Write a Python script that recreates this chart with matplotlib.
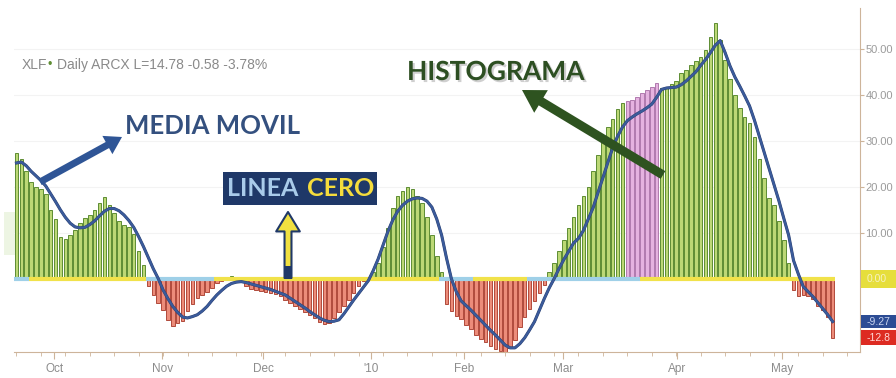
import numpy as np
import matplotlib
matplotlib.use('Agg')
import matplotlib.pyplot as plt
from matplotlib.patches import Rectangle
import matplotlib.patheffects as pe

plt.rcParams['font.family'] = ['Liberation Sans Narrow', 'Liberation Sans', 'DejaVu Sans']

# histogram, one value per trading day (Sep 2009 - May 2010)
hist = [27.4, 26, 23.5, 21, 20, 19.5, 18.5, 15, 13, 9,
        8.7, 9.5, 10.7, 12.2, 13.3, 13.8, 15, 16.5, 17.8, 16,
        14.3, 12.5, 11.7, 11.2, 9.8, 6, 3,
        -1.5, -3.5, -5.2, -6.7, -8.9, -10.2, -9.6, -9.2, -7, -5.5, -4.2, -3.5, -2.8, -2,
        -1.0, -0.4, 0.3, 0.6, 0.4, -0.4,
        -1.5, -2.3, -2.5, -2.6, -2.8, -3.0, -3.3, -3.8, -4.5, -5.2,
        -5.8, -6.5, -7.2, -7.8, -8.6, -9.3, -9.8, -9.5, -8.5, -7.3,
        -6, -4.5, -3, -1.5, -0.5, 0.4, 1.5,
        3.5, 7, 11, 15.5, 18, 19, 20, 19.5, 18, 16.5, 13.5, 9.5, 5, 1.5,
        -5.5, -7, -8, -8.8, -10, -11, -12.3, -13, -13.7, -14.5,
        -15.2, -15.6, -15.8, -15, -13.3, -10.5, -8.3, -6.5, -4.8, -3, -1.3,
        1.5, 3.5, 6, 8.5, 11, 13.5, 16, 18, 20, 23.5, 27, 30.5, 33, 34.8, 37, 38.3,
        38.7, 39, 39.6, 40.4, 41, 41.7, 42.5,
        41.5, 41.8, 42.3, 43, 44.8, 45.5, 46.5, 47.3, 48.3, 49.8,
        52.6, 55.6, 52, 47.5, 43.5, 40, 37.2, 35.2, 33.8, 30.8,
        26, 22, 17.5, 16, 12.5, 8.5, 3.5,
        -2.5, -3.8, -3.5, -3.8, -4.3, -6, -6.8, -8.3, -12.8]

# moving average of the histogram
ma = [25.2, 25.4, 24.6, 23.4, 22.4, 21.4, 20.2, 18.5, 16.8, 15,
      13.4, 12.1, 11.3, 11.1, 11.2, 11.8, 12.6, 13.7, 14.7, 15.3,
      15.3, 14.8, 13.9, 12.7, 11.2, 9.2, 7, 4.6, 2.2, 0.1,
      -2.4, -4.3, -6, -7.3, -8.3, -8.5, -8.2, -7.8, -7, -6,
      -4.7, -3.5, -2.5, -1.6, -1, -0.7, -0.6, -0.8, -1.1, -1.4,
      -1.7, -2, -2.3, -2.7, -3.1, -3.5, -4.2, -4.9, -5.6, -6.3,
      -7.1, -7.8, -8.5, -9, -9.3, -9.2, -8.9, -7.6, -6.1, -4.6,
      -3.2, -1.8, -0.4, 1.8, 4.3, 7.3, 10.3, 12.8, 14.7, 16,
      16.9, 17.4, 17.6, 17.5, 16.9, 15.6, 13, 9.5, 4.5, 0,
      -2.8, -4.8, -5.8, -6.8, -7.9, -9, -10.1, -11.2, -12.2, -13.3,
      -14.4, -15, -15, -14.1, -12.8, -11.1, -9.3, -6.8, -4.3, -2,
      0, 2.2, 4.2, 6, 7.8, 8.8, 10.5, 13, 15.5, 18.8,
      22, 25.3, 28.5, 31, 33, 34.4, 35.2, 35.9, 36.5, 37.2,
      38, 39.5, 41.2, 41.5, 41.6, 41.7, 42.2, 43, 44, 45,
      46.4, 47.7, 49.2, 50.8, 51.8, 49.2, 46.3, 43.9, 41.9, 39.8,
      37.6, 34.5, 31, 27.5, 24, 20.5, 17, 13.2, 9.5, 4,
      1, -1.7, -2.8, -3.9, -5.2, -6.5, -7.8, -9.27]

# days flagged pink on the histogram
pink_days = [125, 126, 127, 128, 129, 130, 131]
# zero line state runs (b = light blue, y = yellow)
zero_runs = [(3, 'b'), (24, 'y'), (14, 'b'), (46, 'y'), (7, 'b'), (11, 'y'), (23, 'b'), (40, 'y')]

month_pos = [7.7, 29.8, 50.5, 72.55, 91.6, 111.8, 135.2, 156.6]
month_lbl = ['Oct', 'Nov', 'Dec', "'10", 'Feb', 'Mar', 'Apr', 'May']
y_ticks = [10, 20, 30, 40, 50]

W, H = 896, 378
fig = plt.figure(figsize=(W / 100, H / 100), dpi=100)
ax = fig.add_axes([14 / W, 26 / H, 846 / W, 344 / H])
ax.patch.set_alpha(0)


def fp(x, y):
    # pixel position (top-left origin) -> figure fraction
    return x / W, 1 - y / H


x = np.arange(len(hist))
face, edge = [], []
for i, v in enumerate(hist):
    if i in pink_days:
        face.append('#e5b2e0'); edge.append('#b07aae')
    elif v >= 0:
        face.append('#bcd876'); edge.append('#5e8d33')
    else:
        face.append('#ec8c7a'); edge.append('#b04a3c')
ax.bar(x, hist, width=0.72, color=face, edgecolor=edge, linewidth=0.7, zorder=2)

zc = []
for n, c in zero_runs:
    zc += ['#f1e24a' if c == 'y' else '#9fd0e8'] * n
ax.hlines(np.zeros(len(x)), x - 0.5, x + 0.5, colors=zc, lw=3, zorder=3)

ax.plot(x, ma, color='#3b5b9b', lw=1.6, zorder=4,
        path_effects=[pe.Stroke(linewidth=2.2, foreground='#2a3f70'), pe.Normal()])

ax.set_xlim(-0.5, 172.6)
ax.set_ylim(-15.9, 58.9)

# axes look
for s in ['top', 'left']:
    ax.spines[s].set_visible(False)
for s in ['right', 'bottom']:
    ax.spines[s].set_color('#cdb49a')
ax.yaxis.tick_right()
ax.set_yticks(y_ticks)
ax.set_yticklabels(['%.2f' % v for v in y_ticks])
ax.tick_params(axis='y', length=3, color='#cdb49a', labelcolor='#9b9b9b', labelsize=8, pad=1)
ax.yaxis.grid(True, color='#f3f3f3', lw=0.8)
ax.set_axisbelow(True)

ax.set_xticks(month_pos)
ax.set_xticklabels(month_lbl)
ax.set_xticks(np.arange(0, 173, 5), minor=True)
ax.tick_params(axis='x', which='major', length=5, color='#cdb49a', labelcolor='#8c8c8c', labelsize=8.5, pad=3)
ax.tick_params(axis='x', which='minor', length=3, color='#cdb49a')

# last value labels on the right axis
trans = ax.get_yaxis_transform()
for val, h, fc, tc in [(0.0, 3.9, '#e6de3c', '#f6f2c4'),
                       (ma[-1], 3.0, '#2c4c94', '#c8d4f0'),
                       (hist[-1], 3.3, '#dd2b22', '#ffd6d6')]:
    ax.add_patch(Rectangle((1.001, val - h / 2), 0.05, h, transform=trans,
                           fc=fc, ec='none', clip_on=False, zorder=5))
    ax.text(1.008, val, '%.2f' % val if abs(val) < 10 else '%.1f' % val, transform=trans,
            va='center', ha='left', fontsize=7.5, color=tc, zorder=6, clip_on=False)

# faint patch at the left edge
fig.add_artist(Rectangle(fp(4, 255), 11 / W, 43 / H, transform=fig.transFigure,
                         fc='#edf5e3', ec='none', zorder=0))

# title line
fig.text(*fp(22, 65), 'XLF', color='#8a8a8a', fontsize=10, va='center')
fig.text(*fp(47, 65), '•', color='#5e8d33', fontsize=9, va='center')
fig.text(*fp(57, 65), 'Daily ARCX L=14.78 -0.58 -3.78%', color='#8a8a8a', fontsize=10, va='center')

# annotations
fig.text(*fp(125, 126), 'MEDIA MOVIL', color='#34507f', fontsize=18.5, fontweight='bold',
         family='Lato', va='center')
fig.text(*fp(407, 72), 'HISTOGRAMA', color='#2d4f22', fontsize=19, fontweight='bold',
         family='Lato', va='center',
         path_effects=[pe.withSimplePatchShadow(offset=(1.5, -1.5), shadow_rgbFace='#888888', alpha=0.4)])

ax.annotate('', xy=(122, H - 137), xytext=(40, H - 182), xycoords='figure pixels',
            textcoords='figure pixels',
            arrowprops=dict(arrowstyle='simple,head_width=15,head_length=12,tail_width=5',
                            mutation_scale=1, fc='#2f5596', ec='none', shrinkA=0, shrinkB=0),
            zorder=8)
ax.annotate('', xy=(522, H - 90), xytext=(663, H - 175), xycoords='figure pixels',
            textcoords='figure pixels',
            arrowprops=dict(arrowstyle='simple,head_width=19,head_length=16,tail_width=6.5',
                            mutation_scale=1, fc='#2e5320', ec='none', shrinkA=0, shrinkB=0),
            zorder=8)

# LINEA CERO box and arrow
fig.add_artist(Rectangle(fp(223, 205), 154 / W, 33 / H, transform=fig.transFigure,
                         fc='#1f3868', ec='none', zorder=5))
fig.text(*fp(227, 189), 'LINEA', color='#a9cbea', fontsize=18, fontweight='bold',
         family='Lato', va='center', zorder=6)
fig.text(*fp(307, 189), 'CERO', color='#f5dc3c', fontsize=18, fontweight='bold',
         family='Lato', va='center', zorder=6)
ax.annotate('', xy=(288, H - 212), xytext=(288, H - 278), xycoords='figure pixels',
            textcoords='figure pixels',
            arrowprops=dict(arrowstyle='simple,head_width=17,head_length=14,tail_width=5',
                            mutation_scale=1, fc='#f0e040', ec='#1f3868', lw=1.5,
                            shrinkA=0, shrinkB=0),
            zorder=8)
fig.add_artist(Rectangle(fp(284.5, 279), 7 / W, 13 / H, transform=fig.transFigure,
                         fc='#1f3868', ec='none', zorder=9))

fig.savefig('out.png', dpi=100)
